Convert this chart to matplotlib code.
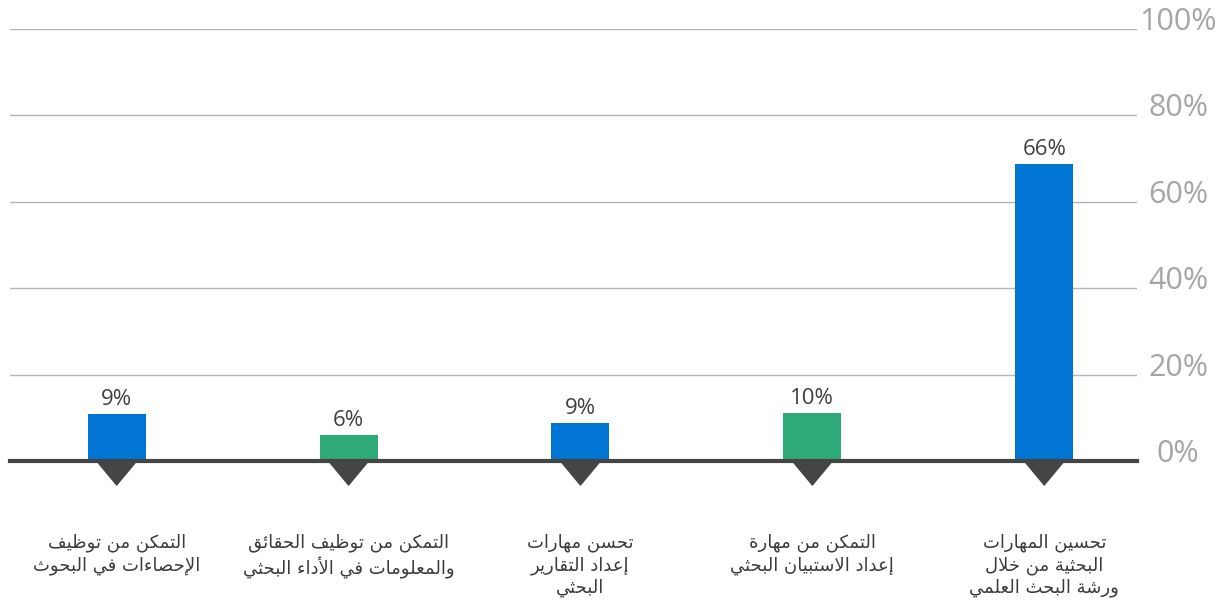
import matplotlib
matplotlib.use("Agg")
import matplotlib.pyplot as plt
from matplotlib.patches import Polygon
from matplotlib.transforms import ScaledTranslation, blended_transform_factory

# Data
categories = [
    "التمكن من توظيف\nالإحصاءات في البحوث",
    "التمكن من توظيف الحقائق\nوالمعلومات في الأداء البحثي",
    "تحسن مهارات\nإعداد التقارير\nالبحثي",
    "التمكن من مهارة\nإعداد الاستبيان البحثي",
    "تحسين المهارات\nالبحثية من خلال\nورشة البحث العلمي",
]
bar_heights = [10.8, 6.0, 8.8, 11.0, 68.8]
value_labels = ["9%", "6%", "9%", "10%", "66%"]
bar_colors = ["#0075d4", "#2eaa77", "#0075d4", "#2eaa77", "#0075d4"]
yticks = [0, 20, 40, 60, 80, 100]
ytick_labels = ["0%", "20%", "40%", "60%", "80%", "100%"]

# --- minimal Arabic shaping (matplotlib draws no contextual forms / RTL) ---
DUAL = {"ئ": 0xFE89, "ب": 0xFE8F, "ت": 0xFE95, "ث": 0xFE99, "ج": 0xFE9D,
        "ح": 0xFEA1, "خ": 0xFEA5, "س": 0xFEB1, "ش": 0xFEB5, "ص": 0xFEB9,
        "ض": 0xFEBD, "ط": 0xFEC1, "ظ": 0xFEC5, "ع": 0xFEC9, "غ": 0xFECD,
        "ف": 0xFED1, "ق": 0xFED5, "ك": 0xFED9, "ل": 0xFEDD, "م": 0xFEE1,
        "ن": 0xFEE5, "ه": 0xFEE9, "ي": 0xFEF1}
RIGHT = {"آ": 0xFE81, "أ": 0xFE83, "إ": 0xFE87, "ا": 0xFE8D, "ة": 0xFE93,
         "د": 0xFEA9, "ذ": 0xFEAB, "ر": 0xFEAD, "ز": 0xFEAF, "و": 0xFEED,
         "ى": 0xFEEF}
LAM_ALEF = {"آ": 0xFEF5, "أ": 0xFEF7, "إ": 0xFEF9, "ا": 0xFEFB}


def shape_line(s):
    # merge lam + alef into ligature tokens
    toks = []
    i = 0
    while i < len(s):
        if s[i] == "ل" and i + 1 < len(s) and s[i + 1] in LAM_ALEF:
            toks.append(("LA", s[i + 1]))
            i += 2
        else:
            toks.append(("C", s[i]))
            i += 1

    def joins_next(t):
        return t[0] == "C" and t[1] in DUAL

    def joins_prev(t):
        return t[0] == "LA" or t[1] in DUAL or t[1] in RIGHT

    out = []
    for k, t in enumerate(toks):
        prev_j = k > 0 and joins_next(toks[k - 1])
        next_j = k + 1 < len(toks) and joins_prev(toks[k + 1])
        if t[0] == "LA":
            out.append(chr(LAM_ALEF[t[1]] + (1 if prev_j else 0)))
        elif t[1] in DUAL:
            base = DUAL[t[1]]
            if prev_j and next_j:
                out.append(chr(base + 3))
            elif prev_j:
                out.append(chr(base + 1))
            elif next_j:
                out.append(chr(base + 2))
            else:
                out.append(chr(base))
        elif t[1] in RIGHT:
            out.append(chr(RIGHT[t[1]] + (1 if prev_j else 0)))
        elif t[1] == "ء":
            out.append(chr(0xFE80))
        else:
            out.append(t[1])
    return "".join(out)[::-1]


def shape(text):
    return "\n".join(shape_line(line) for line in text.split("\n"))


W, H = 1227, 607
fig = plt.figure(figsize=(W / 100, H / 100), dpi=100)
ax = fig.add_axes([10 / W, (H - 461) / H, 1127 / W, 432 / H])

x = list(range(len(categories)))
ax.bar(x, bar_heights, width=0.25, color=bar_colors, zorder=3)

ax.set_xlim(-0.46, 4.40)
ax.set_ylim(0, 100)
for s in ax.spines.values():
    s.set_visible(False)
ax.set_xticks([])
ax.set_yticks(yticks)
ax.set_yticklabels([])
ax.tick_params(axis="y", length=0)
ax.grid(axis="y", color="#b4b4b4", linewidth=1.0, zorder=0)
ax.axhline(0, color="#444444", linewidth=3.0, zorder=4, clip_on=False)

# y tick labels to the right of the plot
bt = blended_transform_factory(ax.transAxes, ax.transData)
for yv, lab in zip(yticks, ytick_labels):
    ax.text(1.0, yv, lab, transform=bt + ScaledTranslation(41 / 100, 7 / 100, fig.dpi_scale_trans),
            ha="center", va="center", fontsize=22, color="#a6a6a6",
            family="Open Sans", clip_on=False)

# value labels above the bars
for xi, h, lab in zip(x, bar_heights, value_labels):
    ax.annotate(lab, (xi, h), xytext=(0, 3), textcoords="offset points",
                ha="center", va="bottom", fontsize=16, color="#404040",
                family="Open Sans")

# pointer triangles under the baseline
tri_half = 0.086
tri_depth = 24 / 4.32
for xi in x:
    ax.add_patch(Polygon([(xi - tri_half, 0), (xi + tri_half, 0), (xi, -tri_depth)],
                         closed=True, facecolor="#454545", edgecolor="#454545",
                         linewidth=1, joinstyle="round", clip_on=False, zorder=5))

# category labels
for xi, cat in zip(x, categories):
    ax.annotate(shape(cat), (xi, 0), xytext=(0, -52), textcoords="offset points",
                ha="center", va="top", fontsize=13, color="#3c3c3c",
                family="DejaVu Sans", linespacing=1.3, annotation_clip=False)

fig.savefig("out.png", dpi=100)
